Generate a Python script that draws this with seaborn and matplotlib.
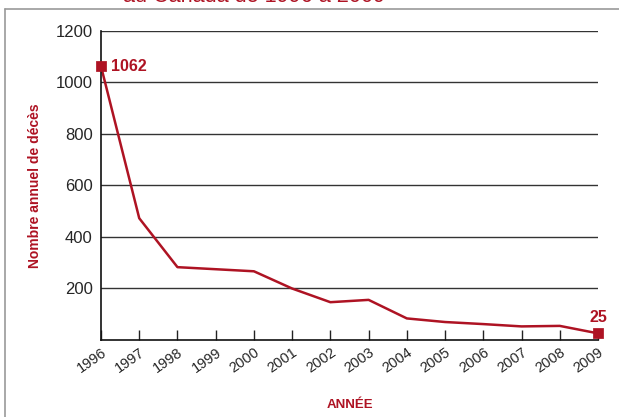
import seaborn as sns
import matplotlib.pyplot as plt
import matplotlib.transforms as mtransforms
import pandas as pd
from matplotlib.lines import Line2D

annees = list(range(1996, 2010))
deces = [1062, 472, 282, 274, 266, 199, 146, 155, 83, 69, 61, 52, 54, 25]

rouge = '#AE1323'

df = pd.DataFrame({'annee': annees, 'deces': deces})

sns.set_style('white')
plt.rcParams['font.family'] = ['Liberation Sans', 'DejaVu Sans']

fig = plt.figure(figsize=(6.19, 4.17), dpi=100)
ax = fig.add_axes([101/619, 1-339.8/417, (598-101)/619, (339.8-30.7)/417])

sns.lineplot(data=df, x='annee', y='deces', color=rouge, lw=1.8, ax=ax, clip_on=False)
ends = df.iloc[[0, -1]]
sns.scatterplot(data=ends, x='annee', y='deces', marker='s', s=45, color=rouge,
                edgecolor=rouge, ax=ax, clip_on=False, zorder=5)

ax.annotate(str(deces[0]), (annees[0], deces[0]), xytext=(7, 0), textcoords='offset points',
            ha='left', va='center', color=rouge, fontsize=11.5, fontweight='bold')
ax.annotate(str(deces[-1]), (annees[-1], deces[-1]), xytext=(0, 6), textcoords='offset points',
            ha='center', va='bottom', color=rouge, fontsize=11.5, fontweight='bold')

ax.set_xlim(1996, 2009)
ax.set_ylim(0, 1200)
ax.set_yticks([200, 400, 600, 800, 1000, 1200])
ax.set_xticks(annees)
ax.set_xticklabels([str(a) for a in annees], rotation=35, ha='right', va='top',
                   rotation_mode='anchor', fontsize=10.5)
decal = mtransforms.ScaledTranslation(9/100, 0, fig.dpi_scale_trans)
for lab in ax.get_xticklabels():
    lab.set_transform(lab.get_transform() + decal)
ax.tick_params(axis='y', length=0, labelsize=12, pad=6)
ax.tick_params(axis='x', bottom=True, direction='in', length=7.5, width=1, color='#222222', pad=4)
ax.yaxis.grid(True, color='#333333', lw=1)
ax.set_axisbelow(True)

for s in ['top', 'right']:
    ax.spines[s].set_visible(False)
for s in ['left', 'bottom']:
    ax.spines[s].set_color('#111111')
    ax.spines[s].set_linewidth(1.2)

ax.set_xlabel('ANNÉE', color=rouge, fontsize=9.5, fontweight='bold', labelpad=17)
ax.set_ylabel('Nombre annuel de décès', color=rouge, fontsize=10, fontweight='bold', labelpad=10)

# cadre gris et titre coupé
fig.add_artist(Line2D([5/619, 5/619], [0, 1-9/417], color='#999999', lw=1.2))
fig.add_artist(Line2D([5/619, 1], [1-9/417, 1-9/417], color='#999999', lw=1.2))
fig.text(123/619, 1-1.5/417, 'au Canada de 1996 à 2009', color=rouge, fontsize=15.6,
         ha='left', va='baseline')

fig.savefig('out.png', dpi=100)
